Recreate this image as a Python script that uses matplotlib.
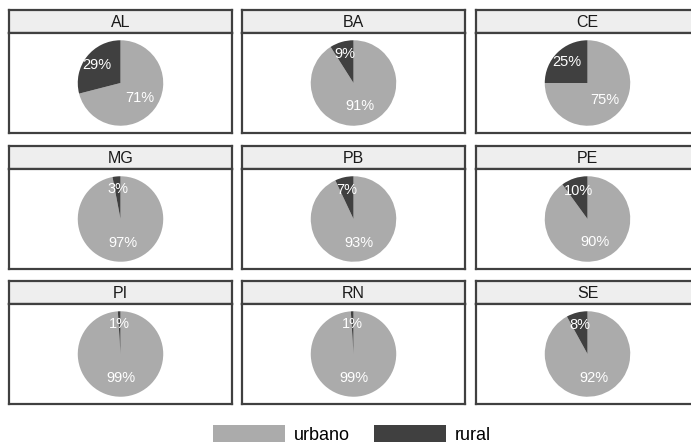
import numpy as np
import matplotlib
matplotlib.use("Agg")
import matplotlib.pyplot as plt
from matplotlib.patches import Patch

plt.rcParams['font.family'] = ['Liberation Sans', 'DejaVu Sans']

estados = ['AL', 'BA', 'CE', 'MG', 'PB', 'PE', 'PI', 'RN', 'SE']
urbano = [71, 91, 75, 97, 93, 90, 99, 99, 92]
rural = [29, 9, 25, 3, 7, 10, 1, 1, 8]
categorias = ['urbano', 'rural']

cor_urbano = '#ababab'
cor_rural = '#404040'
cor_borda = '#404040'

W, H = 691, 444
fig = plt.figure(figsize=(W / 100, H / 100), dpi=100)

# panel grid in pixels
col_x = [9, 242, 476]
row_y = [10, 146, 281]
pw, strip_h, body_h = 223, 23, 100


def px_axes(x, y, w, h):
    return fig.add_axes([x / W, 1 - (y + h) / H, w / W, h / H])


def borda(a):
    a.set_frame_on(True)
    a.set_xticks([])
    a.set_yticks([])
    for s in a.spines.values():
        s.set_visible(True)
        s.set_color(cor_borda)
        s.set_linewidth(1.6)


for i, uf in enumerate(estados):
    x0 = col_x[i % 3]
    y0 = row_y[i // 3]

    # strip with state name
    sa = px_axes(x0, y0, pw, strip_h)
    sa.set_facecolor('#eeeeee')
    borda(sa)
    sa.text(0.5, 0.47, uf, ha='center', va='center', fontsize=11.5,
            color='#1a1a1a', transform=sa.transAxes)

    # pie body
    ax = px_axes(x0, y0 + strip_h, pw, body_h)
    vals = [urbano[i], rural[i]]
    ax.pie(vals, colors=[cor_urbano, cor_rural], startangle=90,
           counterclock=False, radius=1.0)
    ax.set_aspect('equal', adjustable='datalim')
    ax.set_xlim(-2.7, 2.7)
    ax.set_ylim(-1.17, 1.17)
    borda(ax)

    # value labels, rural slices sit a bit further out
    start = 0.0
    for v, r in zip(vals, [0.57, 0.70]):
        mid = (start + v / 2) / 100 * 2 * np.pi
        ax.text(r * np.sin(mid), r * np.cos(mid), f'{v}%', ha='center',
                va='center', color='white', fontsize=10.5)
        start += v

handles = [Patch(facecolor=cor_urbano, edgecolor='none'),
           Patch(facecolor=cor_rural, edgecolor='none')]
fig.legend(handles, categorias, loc='upper center',
           bbox_to_anchor=(352 / W, 1 - 416 / H), ncol=2, frameon=False,
           borderpad=0, fontsize=13, handlelength=4.0, handleheight=1.1,
           columnspacing=1.3, handletextpad=0.5)

fig.savefig('out.png', dpi=100, facecolor='white')
